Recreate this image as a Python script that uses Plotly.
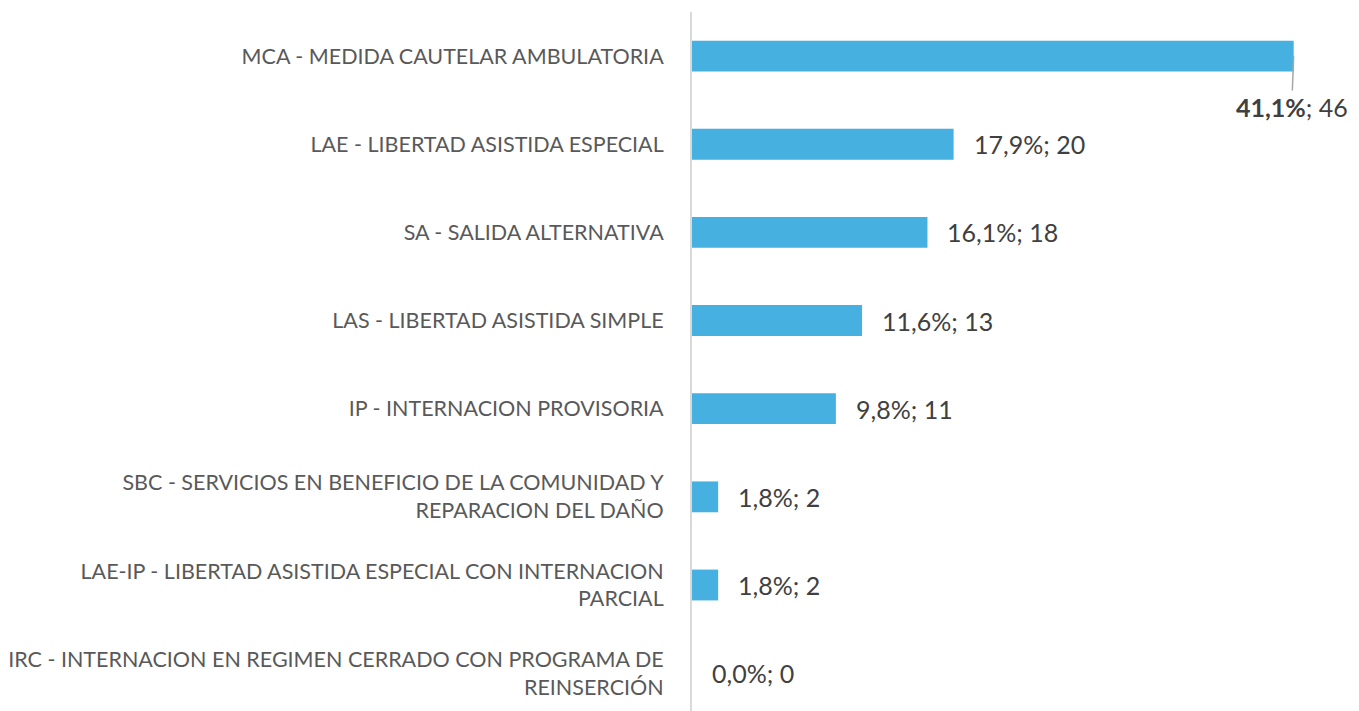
import plotly.graph_objects as go

categories = [
    "MCA - MEDIDA CAUTELAR AMBULATORIA",
    "LAE - LIBERTAD ASISTIDA ESPECIAL",
    "SA - SALIDA ALTERNATIVA",
    "LAS - LIBERTAD ASISTIDA SIMPLE",
    "IP - INTERNACION PROVISORIA",
    "SBC - SERVICIOS EN BENEFICIO DE LA COMUNIDAD Y<br>REPARACION DEL DAÑO",
    "LAE-IP - LIBERTAD ASISTIDA ESPECIAL CON INTERNACION<br>PARCIAL",
    "IRC - INTERNACION EN REGIMEN CERRADO CON PROGRAMA DE<br>REINSERCIÓN",
]
counts = [46, 20, 18, 13, 11, 2, 2, 0]
percents = ["41,1%", "17,9%", "16,1%", "11,6%", "9,8%", "1,8%", "1,8%", "0,0%"]

BAR_COLOR = "#46B0E0"
CAT_FONT = dict(family="Lato, sans-serif", size=21.5, color="#595959")
LBL_FONT = dict(family="Lato, sans-serif", size=25, color="#404040")

fig = go.Figure()
fig.add_trace(go.Bar(
    y=categories, x=counts, orientation="h",
    marker=dict(color=BAR_COLOR, line=dict(width=0)),
    hoverinfo="skip",
))

annotations = []
for i, (cat, n, p) in enumerate(zip(categories, counts, percents)):
    if i == 0:
        annotations.append(dict(
            x=n, y=cat, xref="x", yref="y",
            text=f"<b>{p}</b>; {n}", showarrow=True, arrowhead=0,
            arrowwidth=1.5, arrowcolor="#A6A6A6", ax=-2, ay=51,
            font=LBL_FONT, xanchor="center", yanchor="middle",
        ))
    else:
        annotations.append(dict(
            x=n, y=cat, xref="x", yref="y",
            text=f"{p}; {n}", showarrow=False,
            xanchor="left", yanchor="middle", xshift=18,
            font=LBL_FONT,
        ))

fig.update_layout(
    width=1359, height=711,
    margin=dict(l=684, r=21, t=4, b=0),
    paper_bgcolor="white", plot_bgcolor="white",
    bargap=0.65,
    showlegend=False,
    annotations=annotations,
    xaxis=dict(range=[0, 50], visible=False, showgrid=False, zeroline=False),
    yaxis=dict(
        range=[7.52, -0.5], showline=True, linecolor="#D9D9D9", linewidth=2,
        ticks="", tickfont=CAT_FONT, ticklabelstandoff=22,
        showgrid=False, zeroline=False,
    ),
)

fig.write_html("out.html")
